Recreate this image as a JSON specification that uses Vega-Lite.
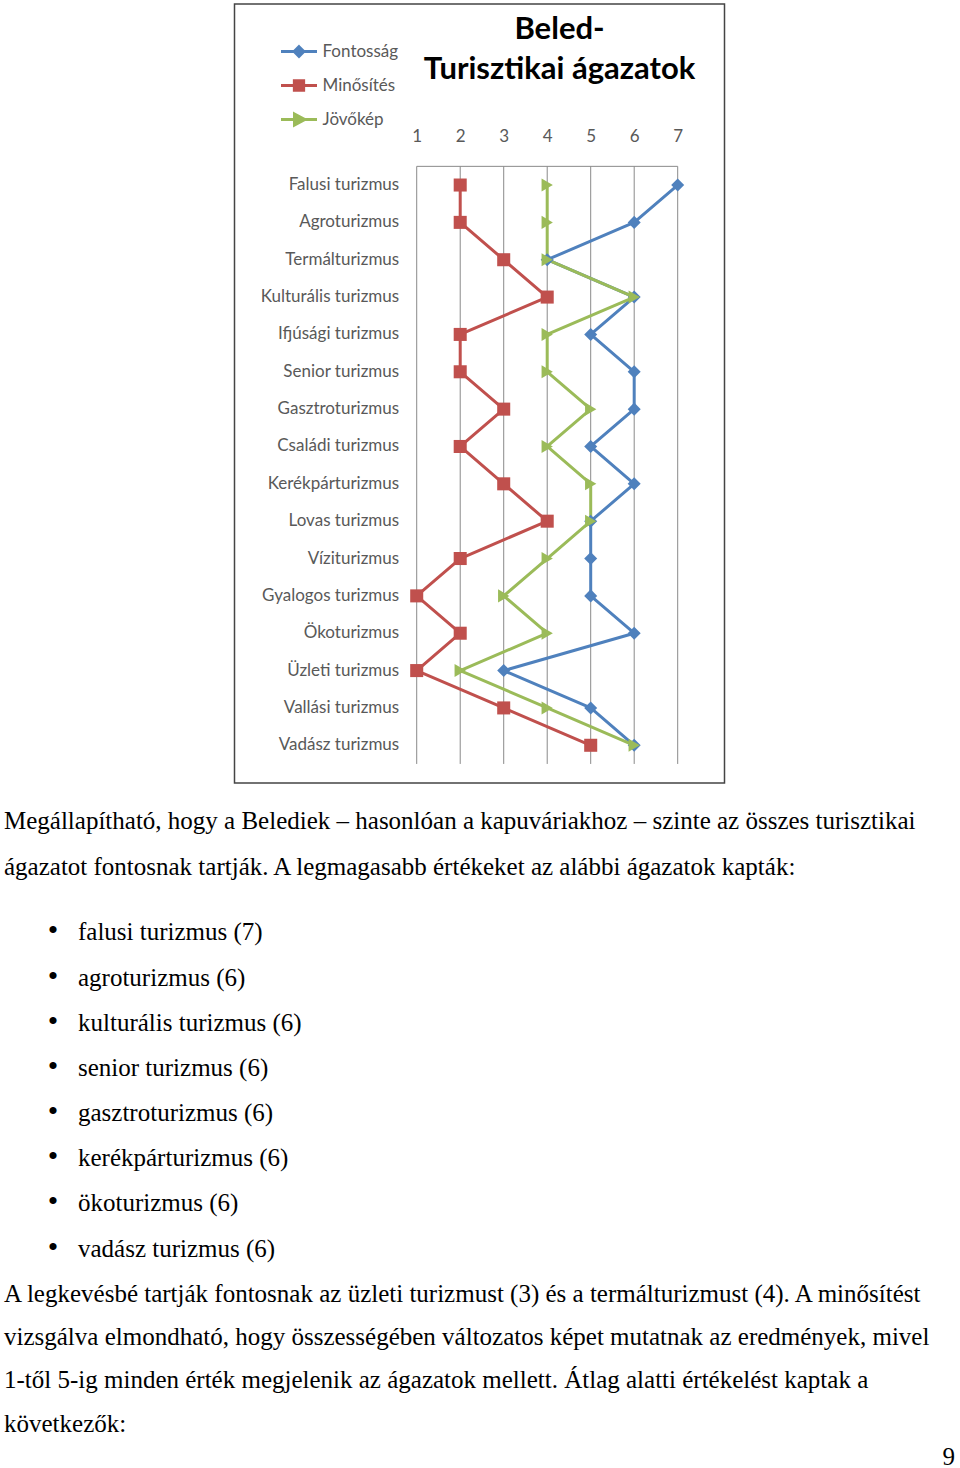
{
  "$schema": "https://vega.github.io/schema/vega-lite/v6.json",
  "padding": {"left": 4, "top": 3, "right": 5, "bottom": 0},
  "background": "white",
  "spacing": 0,
  "bounds": "flush",
  "center": true,
  "config": {
    "font": "Lato",
    "view": {"stroke": null}
  },
  "datasets": {
    "agazatok": [
      {"agazat": "Falusi turizmus", "sorozat": "Fontosság", "ertek": 7},
      {"agazat": "Agroturizmus", "sorozat": "Fontosság", "ertek": 6},
      {"agazat": "Termálturizmus", "sorozat": "Fontosság", "ertek": 4},
      {"agazat": "Kulturális turizmus", "sorozat": "Fontosság", "ertek": 6},
      {"agazat": "Ifjúsági turizmus", "sorozat": "Fontosság", "ertek": 5},
      {"agazat": "Senior turizmus", "sorozat": "Fontosság", "ertek": 6},
      {"agazat": "Gasztroturizmus", "sorozat": "Fontosság", "ertek": 6},
      {"agazat": "Családi turizmus", "sorozat": "Fontosság", "ertek": 5},
      {"agazat": "Kerékpárturizmus", "sorozat": "Fontosság", "ertek": 6},
      {"agazat": "Lovas turizmus", "sorozat": "Fontosság", "ertek": 5},
      {"agazat": "Víziturizmus", "sorozat": "Fontosság", "ertek": 5},
      {"agazat": "Gyalogos turizmus", "sorozat": "Fontosság", "ertek": 5},
      {"agazat": "Ökoturizmus", "sorozat": "Fontosság", "ertek": 6},
      {"agazat": "Üzleti turizmus", "sorozat": "Fontosság", "ertek": 3},
      {"agazat": "Vallási turizmus", "sorozat": "Fontosság", "ertek": 5},
      {"agazat": "Vadász turizmus", "sorozat": "Fontosság", "ertek": 6},
      {"agazat": "Falusi turizmus", "sorozat": "Minősítés", "ertek": 2},
      {"agazat": "Agroturizmus", "sorozat": "Minősítés", "ertek": 2},
      {"agazat": "Termálturizmus", "sorozat": "Minősítés", "ertek": 3},
      {"agazat": "Kulturális turizmus", "sorozat": "Minősítés", "ertek": 4},
      {"agazat": "Ifjúsági turizmus", "sorozat": "Minősítés", "ertek": 2},
      {"agazat": "Senior turizmus", "sorozat": "Minősítés", "ertek": 2},
      {"agazat": "Gasztroturizmus", "sorozat": "Minősítés", "ertek": 3},
      {"agazat": "Családi turizmus", "sorozat": "Minősítés", "ertek": 2},
      {"agazat": "Kerékpárturizmus", "sorozat": "Minősítés", "ertek": 3},
      {"agazat": "Lovas turizmus", "sorozat": "Minősítés", "ertek": 4},
      {"agazat": "Víziturizmus", "sorozat": "Minősítés", "ertek": 2},
      {"agazat": "Gyalogos turizmus", "sorozat": "Minősítés", "ertek": 1},
      {"agazat": "Ökoturizmus", "sorozat": "Minősítés", "ertek": 2},
      {"agazat": "Üzleti turizmus", "sorozat": "Minősítés", "ertek": 1},
      {"agazat": "Vallási turizmus", "sorozat": "Minősítés", "ertek": 3},
      {"agazat": "Vadász turizmus", "sorozat": "Minősítés", "ertek": 5},
      {"agazat": "Falusi turizmus", "sorozat": "Jövőkép", "ertek": 4},
      {"agazat": "Agroturizmus", "sorozat": "Jövőkép", "ertek": 4},
      {"agazat": "Termálturizmus", "sorozat": "Jövőkép", "ertek": 4},
      {"agazat": "Kulturális turizmus", "sorozat": "Jövőkép", "ertek": 6},
      {"agazat": "Ifjúsági turizmus", "sorozat": "Jövőkép", "ertek": 4},
      {"agazat": "Senior turizmus", "sorozat": "Jövőkép", "ertek": 4},
      {"agazat": "Gasztroturizmus", "sorozat": "Jövőkép", "ertek": 5},
      {"agazat": "Családi turizmus", "sorozat": "Jövőkép", "ertek": 4},
      {"agazat": "Kerékpárturizmus", "sorozat": "Jövőkép", "ertek": 5},
      {"agazat": "Lovas turizmus", "sorozat": "Jövőkép", "ertek": 5},
      {"agazat": "Víziturizmus", "sorozat": "Jövőkép", "ertek": 4},
      {"agazat": "Gyalogos turizmus", "sorozat": "Jövőkép", "ertek": 3},
      {"agazat": "Ökoturizmus", "sorozat": "Jövőkép", "ertek": 4},
      {"agazat": "Üzleti turizmus", "sorozat": "Jövőkép", "ertek": 2},
      {"agazat": "Vallási turizmus", "sorozat": "Jövőkép", "ertek": 4},
      {"agazat": "Vadász turizmus", "sorozat": "Jövőkép", "ertek": 6}
    ],
    "szoveg": [
      {"blokk": "p1", "sor": 1, "behuzas": 0, "szoveg": "Megállapítható, hogy a Belediek – hasonlóan a kapuváriakhoz – szinte az összes turisztikai"},
      {"blokk": "p1", "sor": 2, "behuzas": 0, "szoveg": "ágazatot fontosnak tartják. A legmagasabb értékeket az alábbi ágazatok kapták:"},
      {"blokk": "lista", "sor": 1, "behuzas": 1, "szoveg": "falusi turizmus (7)"},
      {"blokk": "lista", "sor": 2, "behuzas": 1, "szoveg": "agroturizmus (6)"},
      {"blokk": "lista", "sor": 3, "behuzas": 1, "szoveg": "kulturális turizmus (6)"},
      {"blokk": "lista", "sor": 4, "behuzas": 1, "szoveg": "senior turizmus (6)"},
      {"blokk": "lista", "sor": 5, "behuzas": 1, "szoveg": "gasztroturizmus (6)"},
      {"blokk": "lista", "sor": 6, "behuzas": 1, "szoveg": "kerékpárturizmus (6)"},
      {"blokk": "lista", "sor": 7, "behuzas": 1, "szoveg": "ökoturizmus (6)"},
      {"blokk": "lista", "sor": 8, "behuzas": 1, "szoveg": "vadász turizmus (6)"},
      {"blokk": "p2", "sor": 1, "behuzas": 0, "szoveg": "A legkevésbé tartják fontosnak az üzleti turizmust (3) és a termálturizmust (4). A minősítést"},
      {"blokk": "p2", "sor": 2, "behuzas": 0, "szoveg": "vizsgálva elmondható, hogy összességében változatos képet mutatnak az eredmények, mivel"},
      {"blokk": "p2", "sor": 3, "behuzas": 0, "szoveg": "1-től 5-ig minden érték megjelenik az ágazatok mellett. Átlag alatti értékelést kaptak a"},
      {"blokk": "p2", "sor": 4, "behuzas": 0, "szoveg": "következők:"},
      {"blokk": "oldal", "sor": 1, "behuzas": 0, "szoveg": "9"}
    ]
  },
  "vconcat": [
    {
      "width": 490,
      "height": 779,
      "view": {"stroke": "#444444", "strokeWidth": 1.5},
      "title": {
        "text": ["Beled-", "Turisztikai ágazatok"],
        "font": "Lato",
        "fontSize": 31,
        "fontWeight": "bold",
        "color": "#000000",
        "anchor": "middle",
        "dx": 80,
        "offset": -82,
        "lineHeight": 40
      },
      "data": {"name": "agazatok"},
      "encoding": {
        "y": {
          "field": "agazat",
          "type": "nominal",
          "title": null,
          "sort": ["Falusi turizmus", "Agroturizmus", "Termálturizmus", "Kulturális turizmus", "Ifjúsági turizmus", "Senior turizmus", "Gasztroturizmus", "Családi turizmus", "Kerékpárturizmus", "Lovas turizmus", "Víziturizmus", "Gyalogos turizmus", "Ökoturizmus", "Üzleti turizmus", "Vallási turizmus", "Vadász turizmus"],
          "scale": {
            "type": "band",
            "domain": ["Falusi turizmus", "Agroturizmus", "Termálturizmus", "Kulturális turizmus", "Ifjúsági turizmus", "Senior turizmus", "Gasztroturizmus", "Családi turizmus", "Kerékpárturizmus", "Lovas turizmus", "Víziturizmus", "Gyalogos turizmus", "Ökoturizmus", "Üzleti turizmus", "Vallási turizmus", "Vadász turizmus"],
            "range": [162.35, 759.95],
            "paddingInner": 0,
            "paddingOuter": 0
          },
          "axis": {
            "orient": "left",
            "offset": -182.2,
            "domain": false,
            "ticks": false,
            "grid": false,
            "labelPadding": 18,
            "labelFont": "Lato",
            "labelFontSize": 17,
            "labelColor": "#595959"
          }
        }
      },
      "layer": [
        {
          "transform": [{"aggregate": [{"op": "count", "as": "db"}], "groupby": ["ertek"]}],
          "mark": {"type": "rule", "color": "#8a8a8a", "strokeWidth": 1},
          "encoding": {
            "x": {"field": "ertek", "type": "quantitative", "title": null},
            "y": {"datum": "Falusi turizmus", "bandPosition": 0},
            "y2": {"datum": "Vadász turizmus", "bandPosition": 1}
          }
        },
        {
          "transform": [{"aggregate": [{"op": "min", "field": "ertek", "as": "also"}, {"op": "max", "field": "ertek", "as": "felso"}]}],
          "mark": {"type": "rule", "color": "#8a8a8a", "strokeWidth": 1},
          "encoding": {
            "x": {"field": "also", "type": "quantitative", "title": null},
            "x2": {"field": "felso"},
            "y": {"datum": "Falusi turizmus", "bandPosition": 0}
          }
        },
        {
          "mark": {"type": "line", "strokeWidth": 3, "strokeJoin": "round"},
          "encoding": {
            "x": {
              "field": "ertek",
              "type": "quantitative",
              "title": null,
              "scale": {"domain": [-3.189, 8.076], "nice": false, "zero": false},
              "axis": {
                "orient": "top",
                "values": [1, 2, 3, 4, 5, 6, 7],
                "offset": -162.35,
                "domain": false,
                "ticks": false,
                "grid": false,
                "labelPadding": 21,
                "labelFont": "Lato",
                "labelFontSize": 17,
                "labelColor": "#595959"
              }
            },
            "color": {
              "field": "sorozat",
              "type": "nominal",
              "scale": {"domain": ["Fontosság", "Minősítés", "Jövőkép"], "range": ["#4F81BD", "#C0504D", "#9BBB59"]},
              "legend": {
                "orient": "none",
                "legendX": 277.5,
                "legendY": 30,
                "padding": 0,
                "title": null,
                "symbolSize": 1024,
                "symbolStrokeWidth": 3,
                "rowPadding": 5,
                "labelOffset": 6,
                "labelFont": "Lato",
                "labelFontSize": 17,
                "labelColor": "#595959",
                "encode": {
                  "symbols": {
                    "update": {
                      "shape": {"signal": "datum.value === 'Fontosság' ? 'M-1.125,0L1.125,0M0,-0.3L0.3,0L0,0.3L-0.3,0Z' : datum.value === 'Minősítés' ? 'M-1.125,0L1.125,0M-0.29,-0.29L0.29,-0.29L0.29,0.29L-0.29,0.29Z' : 'M-1.125,0L1.125,0M-0.28,-0.34L0.36,0L-0.28,0.34Z'"},
                      "strokeWidth": {"value": 3},
                      "opacity": {"value": 1}
                    }
                  }
                }
              }
            }
          }
        },
        {
          "transform": [{"filter": "datum.sorozat === 'Fontosság'"}],
          "mark": {"type": "point", "filled": true, "size": 170, "opacity": 1, "shape": "diamond"},
          "encoding": {
            "x": {"field": "ertek", "type": "quantitative", "title": null},
            "color": {"field": "sorozat", "type": "nominal"}
          }
        },
        {
          "transform": [{"filter": "datum.sorozat === 'Minősítés'"}],
          "mark": {"type": "point", "filled": true, "size": 170, "opacity": 1, "shape": "square"},
          "encoding": {
            "x": {"field": "ertek", "type": "quantitative", "title": null},
            "color": {"field": "sorozat", "type": "nominal"}
          }
        },
        {
          "transform": [{"filter": "datum.sorozat === 'Jövőkép'"}],
          "mark": {"type": "point", "filled": true, "size": 170, "opacity": 1, "shape": "triangle-right"},
          "encoding": {
            "x": {"field": "ertek", "type": "quantitative", "title": null},
            "color": {"field": "sorozat", "type": "nominal"}
          }
        }
      ]
    },
    {
      "width": 951,
      "height": 138,
      "data": {"name": "szoveg"},
      "transform": [{"filter": "datum.blokk === 'p1'"}],
      "mark": {"type": "text", "align": "left", "baseline": "alphabetic", "font": "Liberation Serif", "fontSize": 25, "color": "#000000"},
      "encoding": {
        "x": {"field": "behuzas", "type": "quantitative", "scale": {"domain": [0, 1], "range": [0, 74]}, "axis": null},
        "y": {"field": "sor", "type": "ordinal", "scale": {"type": "point", "padding": 1.09}, "axis": null},
        "text": {"field": "szoveg"}
      }
    },
    {
      "width": 951,
      "height": 355,
      "data": {"name": "szoveg"},
      "transform": [{"filter": "datum.blokk === 'lista'"}],
      "encoding": {
        "x": {"field": "behuzas", "type": "quantitative", "scale": {"domain": [0, 1], "range": [0, 74]}, "axis": null},
        "y": {"field": "sor", "type": "ordinal", "scale": {"type": "point", "padding": 0.427}, "axis": null}
      },
      "layer": [
        {
          "mark": {"type": "text", "align": "left", "baseline": "alphabetic", "font": "Liberation Serif", "fontSize": 25, "color": "#000000"},
          "encoding": {"text": {"field": "szoveg"}}
        },
        {
          "mark": {"type": "text", "align": "center", "baseline": "alphabetic", "font": "Liberation Serif", "fontSize": 30, "color": "#000000", "dx": -25},
          "encoding": {"text": {"value": "•"}}
        }
      ]
    },
    {
      "width": 951,
      "height": 181.4,
      "data": {"name": "szoveg"},
      "transform": [{"filter": "datum.blokk === 'p2'"}],
      "mark": {"type": "text", "align": "left", "baseline": "alphabetic", "font": "Liberation Serif", "fontSize": 25, "color": "#000000"},
      "encoding": {
        "x": {"field": "behuzas", "type": "quantitative", "scale": {"domain": [0, 1], "range": [0, 74]}, "axis": null},
        "y": {"field": "sor", "type": "ordinal", "scale": {"type": "point", "padding": 0.593}, "axis": null},
        "text": {"field": "szoveg"}
      }
    },
    {
      "width": 951,
      "height": 13.8,
      "data": {"name": "szoveg"},
      "transform": [{"filter": "datum.blokk === 'oldal'"}],
      "mark": {"type": "text", "align": "right", "baseline": "alphabetic", "font": "Liberation Serif", "fontSize": 25, "color": "#000000"},
      "encoding": {
        "x": {"value": "width"},
        "y": {"field": "sor", "type": "ordinal", "scale": {"type": "point"}, "axis": null},
        "text": {"field": "szoveg"}
      }
    }
  ]
}
